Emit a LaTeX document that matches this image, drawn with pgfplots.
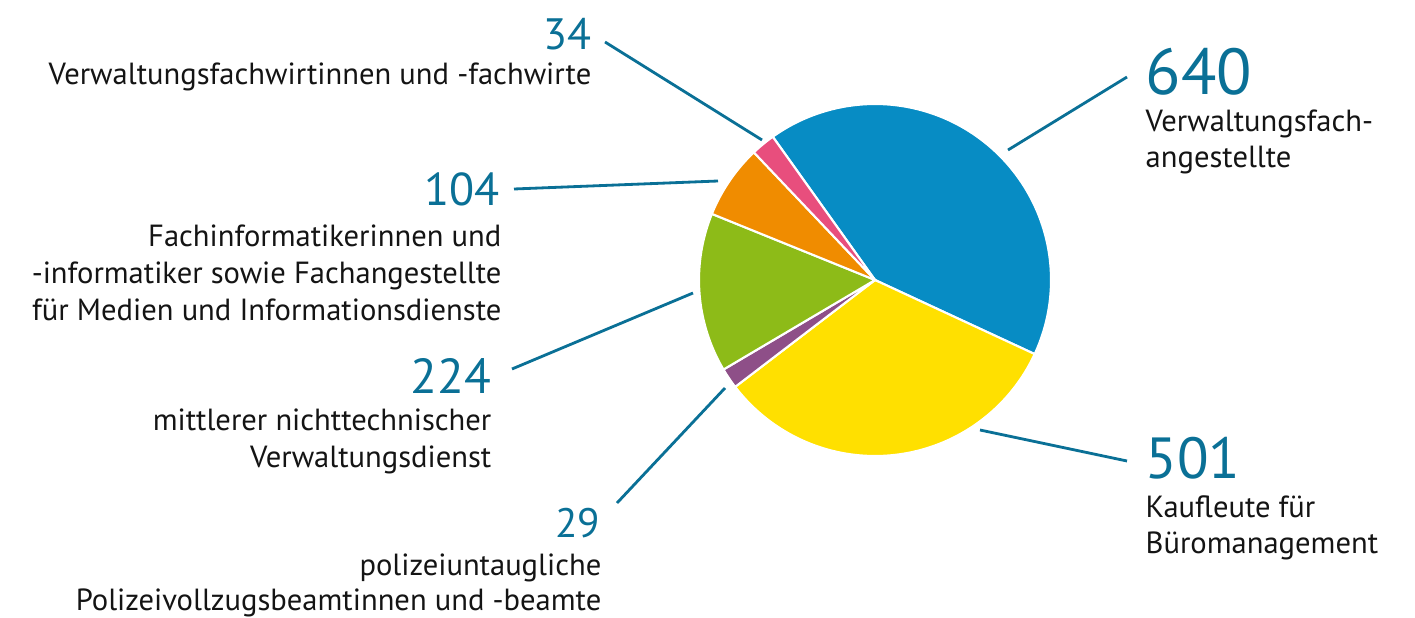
\documentclass[border=0pt]{standalone}
\usepackage{pgfplots}
\pgfplotsset{compat=1.18}
\usepackage{pgfplotstable}
\usepackage{fontspec}
\setmainfont{PT Sans}
\definecolor{cBlue}{HTML}{078CC4}
\definecolor{cYellow}{HTML}{FFE000}
\definecolor{cPurple}{HTML}{8E4F88}
\definecolor{cGreen}{HTML}{8DBB18}
\definecolor{cOrange}{HTML}{F08C00}
\definecolor{cPink}{HTML}{E84E7D}
\definecolor{cTeal}{HTML}{0A7096}
\definecolor{cText}{HTML}{141414}
\pgfplotstableread{
id value
0 640
1 501
2 29
3 224
4 104
5 34
}\piedata
\begin{document}
\begin{tikzpicture}
\pgfplotstablegetelem{0}{value}\of\piedata \pgfmathsetmacro\vA{\pgfplotsretval}
\pgfplotstablegetelem{1}{value}\of\piedata \pgfmathsetmacro\vB{\pgfplotsretval}
\pgfplotstablegetelem{2}{value}\of\piedata \pgfmathsetmacro\vC{\pgfplotsretval}
\pgfplotstablegetelem{3}{value}\of\piedata \pgfmathsetmacro\vD{\pgfplotsretval}
\pgfplotstablegetelem{4}{value}\of\piedata \pgfmathsetmacro\vE{\pgfplotsretval}
\pgfplotstablegetelem{5}{value}\of\piedata \pgfmathsetmacro\vF{\pgfplotsretval}
\pgfmathsetmacro\tot{\vA+\vB+\vC+\vD+\vE+\vF}
\pgfmathsetmacro\sA{125.5}
\pgfmathsetmacro\sB{\sA-360*(\vA/\tot)}
\pgfmathsetmacro\sC{\sB-360*(\vB/\tot)}
\pgfmathsetmacro\sD{\sC-360*(\vC/\tot)}
\pgfmathsetmacro\sE{\sD-360*(\vD/\tot)}
\pgfmathsetmacro\sF{\sE-360*(\vE/\tot)}
\pgfmathsetmacro\sG{\sF-360*(\vF/\tot)}
\begin{axis}[scale only axis, width=14.15cm, height=6.17cm,
  xmin=0, xmax=1415, ymin=-617, ymax=0, hide axis, clip=false]
\addplot[draw=none] coordinates {(0,0) (1415,-617)};
\pgfplotsset{wedge/.style={draw=white, line width=0.6pt, samples=120, variable=\t}}
\addplot[wedge, fill=cBlue, domain=\sB:\sA] ({875+176*cos(\t)},{-280+176*sin(\t)}) -- (axis cs:875,-280) -- cycle;
\addplot[wedge, fill=cYellow, domain=\sC:\sB] ({875+176*cos(\t)},{-280+176*sin(\t)}) -- (axis cs:875,-280) -- cycle;
\addplot[wedge, fill=cPurple, domain=\sD:\sC] ({875+176*cos(\t)},{-280+176*sin(\t)}) -- (axis cs:875,-280) -- cycle;
\addplot[wedge, fill=cGreen, domain=\sE:\sD] ({875+176*cos(\t)},{-280+176*sin(\t)}) -- (axis cs:875,-280) -- cycle;
\addplot[wedge, fill=cOrange, domain=\sF:\sE] ({875+176*cos(\t)},{-280+176*sin(\t)}) -- (axis cs:875,-280) -- cycle;
\addplot[wedge, fill=cPink, domain=\sG:\sF] ({875+176*cos(\t)},{-280+176*sin(\t)}) -- (axis cs:875,-280) -- cycle;
% leader lines
\draw[cTeal, line width=0.8pt] (axis cs:605,-42) -- (axis cs:762,-140);
\draw[cTeal, line width=0.8pt] (axis cs:514,-189) -- (axis cs:718,-181);
\draw[cTeal, line width=0.8pt] (axis cs:512,-369) -- (axis cs:693,-293);
\draw[cTeal, line width=0.8pt] (axis cs:617,-503) -- (axis cs:725,-388);
\draw[cTeal, line width=0.8pt] (axis cs:1008,-150) -- (axis cs:1127,-77);
\draw[cTeal, line width=0.8pt] (axis cs:980,-430) -- (axis cs:1127,-461);
% labels
\tikzset{num/.style={text=cTeal, inner sep=0pt}, lab/.style={text=cText, inner sep=0pt, font=\fontsize{8.7}{11}\selectfont}}
\node[num, anchor=base east, font=\fontsize{12.5}{14}\selectfont] at (axis cs:592,-50) {34};
\node[lab, anchor=base east] at (axis cs:592,-85) {Verwaltungsfachwirtinnen und -fachwirte};
\node[num, anchor=base east, font=\fontsize{13.1}{15}\selectfont] at (axis cs:500,-205) {104};
\node[lab, anchor=base east] at (axis cs:502,-246) {Fachinformatikerinnen und};
\node[lab, anchor=base east] at (axis cs:502,-283) {-informatiker sowie Fachangestellte};
\node[lab, anchor=base east] at (axis cs:502,-320) {für Medien und Informationsdienste};
\node[num, anchor=base east, font=\fontsize{14}{16}\selectfont] at (axis cs:492,-393) {224};
\node[lab, anchor=base east] at (axis cs:492,-430) {mittlerer nichttechnischer};
\node[lab, anchor=base east] at (axis cs:492,-467) {Verwaltungsdienst};
\node[num, anchor=base east, font=\fontsize{11.7}{13}\selectfont] at (axis cs:601,-537) {29};
\node[lab, anchor=base east] at (axis cs:602,-575) {polizeiuntaugliche};
\node[lab, anchor=base east] at (axis cs:602,-610) {Polizeivollzugsbeamtinnen und -beamte};
\node[num, anchor=base west, font=\fontsize{18.5}{21}\selectfont] at (axis cs:1145,-95) {640};
\node[lab, anchor=base west] at (axis cs:1145,-132) {Verwaltungsfach-};
\node[lab, anchor=base west] at (axis cs:1145,-168) {angestellte};
\node[num, anchor=base west, font=\fontsize{16.5}{19}\selectfont] at (axis cs:1145,-478) {501};
\node[lab, anchor=base west] at (axis cs:1145,-517) {Kaufleute für};
\node[lab, anchor=base west] at (axis cs:1145,-553) {Büromanagement};
\end{axis}
\end{tikzpicture}
\end{document}
